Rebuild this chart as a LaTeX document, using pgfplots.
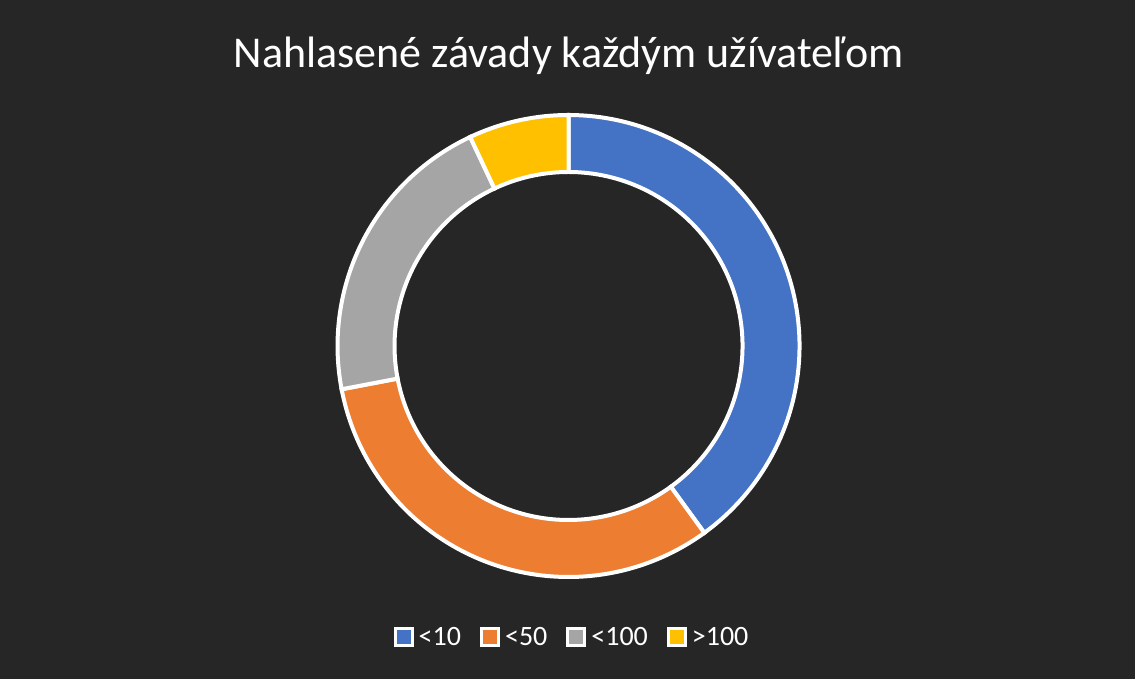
\documentclass[border=0pt]{standalone}
\usepackage{pgfplots}
\pgfplotsset{compat=1.18}
\usepgfplotslibrary{fillbetween}
\usepackage{fontspec}
\setmainfont{Carlito}

\definecolor{bgc}{HTML}{262626}
\definecolor{cA}{HTML}{4472C4}
\definecolor{cB}{HTML}{ED7D31}
\definecolor{cC}{HTML}{A5A5A5}
\definecolor{cD}{HTML}{FFC000}

% shares in percent: <10, <50, <100, >100
\def\vA{40}
\def\vB{32}
\def\vC{21}
\def\vD{7}
\pgfmathsetmacro\aA{0}
\pgfmathsetmacro\aB{\aA+3.6*\vA}
\pgfmathsetmacro\aC{\aB+3.6*\vB}
\pgfmathsetmacro\aD{\aC+3.6*\vC}
\pgfmathsetmacro\aE{\aD+3.6*\vD}

\def\rout{231}
\def\rin{174}

% one ring segment, angles clockwise from north
\newcommand\segment[4]{%
  \addplot[draw=none, forget plot, name path=o#4, domain=#1:#2, samples=90, variable=\t]
    ({\rout*sin(\t)}, {\rout*cos(\t)});
  \addplot[draw=none, forget plot, name path=i#4, domain=#1:#2, samples=90, variable=\t]
    ({\rin*sin(\t)}, {\rin*cos(\t)});
  \addplot[fill=#3, draw=white, line width=4pt, line join=miter, forget plot]
    fill between[of=o#4 and i#4];
}

\tikzset{fill between/on layer=main}

\begin{document}
\begin{tikzpicture}
\fill[bgc] (0,0) rectangle (1135pt,679pt);
\begin{axis}[
  at={(0,0)}, anchor=south west,
  scale only axis, width=1135pt, height=679pt,
  xmin=-568.5, xmax=566.5, ymin=-333, ymax=346,
  hide axis, clip=false,
  legend columns=4,
  legend style={at={(axis description cs:0.504,0.062)}, anchor=center,
    draw=none, fill=none, text=white, font=\fontsize{28}{32}\selectfont,
    /tikz/every odd column/.append style={column sep=3pt},
    /tikz/every even column/.append style={column sep=17pt},
    inner sep=0pt},
  legend image code/.code={\draw[#1, draw=white, line width=3pt]
    (1.5pt,-8.5pt) rectangle (18.5pt,8.5pt);},
]
\segment{\aA}{\aB}{cA}{1}
\segment{\aB}{\aC}{cB}{2}
\segment{\aC}{\aD}{cC}{3}
\segment{\aD}{\aE}{cD}{4}

\addlegendimage{fill=cA}\addlegendentry{<10}
\addlegendimage{fill=cB}\addlegendentry{<50}
\addlegendimage{fill=cC}\addlegendentry{<100}
\addlegendimage{fill=cD}\addlegendentry{>100}

\node[anchor=base, text=white, font=\fontsize{44}{50}\selectfont, inner sep=0pt]
  at (axis cs:0,278) {Nahlasené závady každým užívateľom};
\end{axis}
\end{tikzpicture}
\end{document}
